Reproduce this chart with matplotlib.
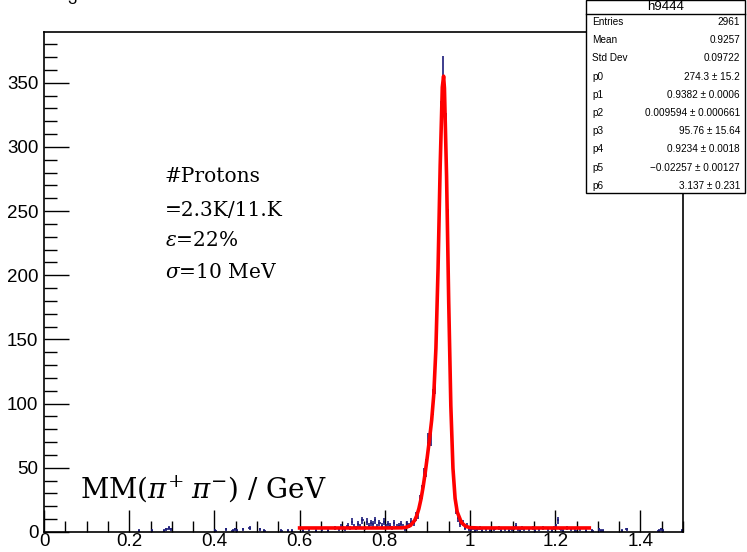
import numpy as np
import matplotlib.pyplot as plt
from matplotlib.patches import Rectangle
from matplotlib.lines import Line2D

plt.rcParams['mathtext.fontset'] = 'dejavuserif'

# histogram h9444: non-empty bins (bin width 0.005), centres and counts
bin_width = 0.005
hist_x = [0.2225, 0.2525, 0.2825, 0.2875, 0.2925, 0.2975, 0.4025, 0.4275, 0.4425, 0.4475,
          0.4525, 0.4675, 0.4825, 0.5075, 0.5175, 0.5575, 0.5725, 0.5825,
          0.6075, 0.6225, 0.6375, 0.6525, 0.6675, 0.6825, 0.6925, 0.6975, 0.7025, 0.7075,
          0.7125, 0.7175, 0.7225, 0.7275, 0.7325, 0.7375, 0.7425, 0.7475, 0.7525, 0.7575,
          0.7625, 0.7675, 0.7725, 0.7775, 0.7825, 0.7875, 0.7925, 0.7975, 0.8025, 0.8075,
          0.8125, 0.8175, 0.8225, 0.8275, 0.8325, 0.8375,
          0.8425, 0.8475, 0.8525, 0.8575, 0.8625, 0.8675, 0.8725, 0.8775, 0.8825, 0.8875,
          0.8925, 0.8975, 0.9025, 0.9075, 0.9125, 0.9175, 0.9225, 0.9275, 0.9325, 0.9375,
          0.9425, 0.9475, 0.9525, 0.9575, 0.9625, 0.9675, 0.9725, 0.9775, 0.9825, 0.9875,
          0.9925, 0.9975,
          1.0025, 1.0075, 1.0125, 1.0175, 1.0225, 1.0275, 1.0375, 1.0475, 1.0575, 1.0675,
          1.0725, 1.0825, 1.0925, 1.0975, 1.1025, 1.1075, 1.1125, 1.1175, 1.1225, 1.1275,
          1.1375, 1.1475, 1.1525, 1.1625, 1.1725, 1.1825, 1.1925, 1.1975, 1.2025, 1.2075,
          1.2125, 1.2175, 1.2275, 1.2375, 1.2475, 1.2575, 1.2725, 1.2875,
          1.3025, 1.3075, 1.3125, 1.3575, 1.3675, 1.4425, 1.4475, 1.4525, 1.4975]
hist_n = [1, 1, 1, 2, 3, 2, 1, 2, 1, 2,
          1, 2, 3, 2, 1, 1, 1, 1,
          1, 2, 1, 2, 1, 3, 2, 4, 3, 2,
          5, 3, 8, 4, 3, 6, 4, 9, 3, 8,
          5, 7, 6, 9, 4, 7, 5, 8, 4, 6,
          5, 3, 7, 4, 5, 6,
          4, 2, 6, 5, 8, 7, 12, 14, 24, 31,
          43, 50, 69, 76, 101, 118, 165, 243, 318, 352,
          309, 236, 131, 76, 41, 18, 11, 6, 7, 3,
          5, 2,
          2, 3, 1, 2, 3, 1, 2, 1, 2, 3,
          1, 2, 1, 2, 3, 5, 2, 1, 3, 2,
          2, 3, 1, 2, 3, 2, 1, 3, 4, 9,
          2, 1, 3, 2, 1, 2, 1, 1,
          2, 1, 1, 1, 2, 1, 2, 1, 1]

# fitted curve (fit range 0.6 - 1.28)
fit_x = [0.60, 0.70, 0.80, 0.84, 0.85, 0.86, 0.87, 0.875, 0.88, 0.885, 0.89, 0.895, 0.90,
         0.905, 0.91, 0.915, 0.92, 0.925, 0.93, 0.935, 0.938, 0.94, 0.945, 0.95, 0.955,
         0.96, 0.965, 0.97, 0.98, 0.99, 1.00, 1.02, 1.10, 1.20, 1.28]
fit_y = [3.14, 3.14, 3.14, 3.24, 3.62, 4.99, 8.97, 12.75, 18.2, 25.7, 35.2, 46.5, 59.2,
         72.5, 87.1, 107.2, 143.2, 205.1, 285.3, 346.5, 355.1, 345.7, 277.1, 179.7, 98.3,
         49.6, 26.2, 15.6, 7.3, 4.4, 3.4, 3.15, 3.14, 3.14, 3.14]

# stats box
stat_title = 'h9444'
stat_names = ['Entries', 'Mean', 'Std Dev', 'p0', 'p1', 'p2', 'p3', 'p4', 'p5', 'p6']
stat_values = ['2961', '0.9257', '0.09722', '274.3 \u00b1 15.2', '0.9382 \u00b1 0.0006',
               '0.009594 \u00b1 0.000661', '95.76 \u00b1 15.64', '0.9234 \u00b1 0.0018',
               '\u22120.02257 \u00b1 0.00127', '3.137 \u00b1 0.231']

notes = ['#Protons', '=2.3K/11.K', r'$\varepsilon$=22%', r'$\sigma$=10 MeV']

W, H = 747, 552
fig = plt.figure(figsize=(W / 100, H / 100), dpi=100)
ax = fig.add_axes([44 / W, 1 - 532 / H, (683 - 44) / W, (532 - 32) / H])

hx = np.array(hist_x)
hn = np.array(hist_n, dtype=float)
ax.errorbar(hx, hn, xerr=bin_width / 2, yerr=np.sqrt(hn), fmt='none',
            ecolor='#1c1c7a', elinewidth=1.2, capsize=0, zorder=2)
ax.plot(fit_x, fit_y, color='#ff0000', lw=2.6, zorder=3)

ax.set_xlim(0, 1.5)
ax.set_ylim(0, 389.5)
ax.set_xticks([0, 0.2, 0.4, 0.6, 0.8, 1.0, 1.2, 1.4])
ax.set_xticklabels(['0', '0.2', '0.4', '0.6', '0.8', '1', '1.2', '1.4'])
ax.set_xticks(np.arange(0, 1.51, 0.05), minor=True)
ax.set_yticks(range(0, 351, 50))
ax.set_yticks(range(0, 390, 10), minor=True)
ax.tick_params(which='both', direction='in', top=False, right=False, width=1.0,
               labelsize=13.5)
ax.tick_params(axis='y', which='major', length=18, pad=4)
ax.tick_params(axis='y', which='minor', length=9)
ax.tick_params(axis='x', which='major', length=16, pad=1)
ax.tick_params(axis='x', which='minor', length=8)
for lab in ax.get_xticklabels() + ax.get_yticklabels():
    lab.set_family('Liberation Sans')
for s in ax.spines.values():
    s.set_linewidth(1.2)

# annotations
ny = [176, 210, 241, 272]
for t, y in zip(notes, ny):
    fig.text(165 / W, 1 - y / H, t, fontsize=14.5, family='DejaVu Serif', va='center')
fig.text(80 / W, 1 - 489 / H, r'MM($\pi^{+}\;\pi^{-}$) / GeV', fontsize=20,
         family='DejaVu Serif', va='center')
fig.text(72 / W, 1 + 1 / H, '3', fontsize=12, family='Liberation Sans', ha='center', va='center')

# stats box
bx0, bx1, by0, by1 = 586, 745, 0, 193
fig.patches.append(Rectangle((bx0 / W, 1 - by1 / H), (bx1 - bx0) / W, (by1 - by0) / H,
                             transform=fig.transFigure, facecolor='white',
                             edgecolor='black', lw=1.0, zorder=5))
fig.lines.append(Line2D([bx0 / W, bx1 / W], [1 - 14 / H, 1 - 14 / H],
                        transform=fig.transFigure, color='black', lw=1.0, zorder=6))
fig.text((bx0 + bx1) / 2 / W, 1 - 7 / H, stat_title, fontsize=9.5, family='Liberation Sans',
         ha='center', va='center', zorder=7)
for i, (n, v) in enumerate(zip(stat_names, stat_values)):
    y = 22 + i * 18.2
    fig.text(592 / W, 1 - y / H, n, fontsize=7.2, family='Liberation Sans',
             va='center', zorder=7)
    fig.text(740 / W, 1 - y / H, v, fontsize=7.2, family='Liberation Sans',
             va='center', ha='right', zorder=7)

fig.savefig('out.png', dpi=100)
